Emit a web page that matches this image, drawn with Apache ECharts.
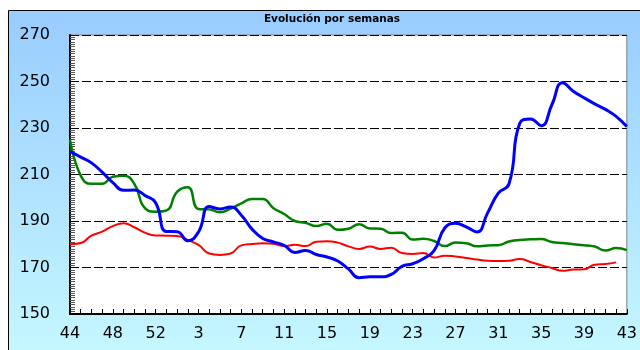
<!DOCTYPE html>
<html>
<head>
<meta charset="utf-8">
<script src="https://cdn.jsdelivr.net/npm/echarts@6/dist/echarts.min.js"></script>
<style>
  html, body { margin: 0; padding: 0; background: #ffffff; }
  #chart { width: 640px; height: 350px; }
</style>
</head>
<body>
<div id="chart"></div>
<script>
// Weeks 44..53 of the previous year, then weeks 1..43
const weeks = [44, 45, 46, 47, 48, 49, 50, 51, 52, 53,
  1, 2, 3, 4, 5, 6, 7, 8, 9, 10, 11, 12, 13, 14, 15, 16, 17, 18, 19, 20,
  21, 22, 23, 24, 25, 26, 27, 28, 29, 30, 31, 32, 33, 34, 35, 36, 37, 38, 39, 40,
  41, 42, 43];

const yTicks = { min: 150, max: 270, step: 20 };

const blueSeries = [219.8, 217.5, 215, 211, 206.5, 203.2, 203.3, 201, 197.8, 185.5,
  185.4, 181.5, 185.3, 196.2, 195.2, 196, 192.5, 186.5, 182.5, 181,
  179.5, 176.5, 177.3, 175.6, 174.5, 172.8, 169.4, 165.6, 166, 166,
  167, 170.5, 171.6, 173.8, 177.3, 187, 189, 187.5, 185.3, 193.5,
  202, 206, 232, 233.9, 231, 240, 249.5, 245.8, 243, 240.4,
  238, 235, 230.6];

const greenSeries = [225, 209.5, 206, 206, 209, 209.5, 206, 195.5, 194, 194.5,
  202.5, 204.5, 195.2, 195, 193.8, 195.3, 197.6, 199.5, 199.5, 195.5,
  193, 190, 189.2, 187.8, 188.8, 186.2, 186.7, 188.6, 186.8, 186.7,
  184.8, 185, 182, 182.4, 181.4, 179.2, 180.7, 180.4, 179.1, 179.5,
  179.6, 181.2, 181.8, 182.1, 182.3, 181, 180.5, 180, 179.6, 179,
  177.3, 178.4, 177.5];

const redSeries = [180, 180.5, 183.7, 185.4, 187.8, 189, 187.3, 185, 183.8, 183.7,
  183.6, 181.8, 179.7, 176, 175.4, 176, 179.5, 180.1, 180.4, 180.2,
  179.2, 179.8, 179.2, 181.1, 181.3, 180.7, 179.1, 178, 179, 178,
  178.5, 176.2, 175.8, 176.2, 174.3, 175.1, 174.7, 174.1, 173.4, 172.9,
  172.8, 172.9, 173.7, 172.4, 171, 169.8, 168.6, 169.1, 169.2, 171.2,
  171.5, 172.2, null];

const chart = echarts.init(document.getElementById('chart'), null, { renderer: 'canvas' });

const labelFont = { fontFamily: 'DejaVu Sans', fontSize: 16, color: '#000' };

chart.setOption({
  animation: false,
  graphic: [{
    type: 'rect',
    z: -10,
    silent: true,
    shape: { x: 8.5, y: 10.5, width: 700, height: 400 },
    style: {
      fill: new echarts.graphic.LinearGradient(0, 0, 0, 1, [
        { offset: 0, color: '#99ccff' },
        { offset: 1, color: '#ccffff' }
      ]),
      stroke: '#000',
      lineWidth: 1
    }
  }],
  title: {
    text: 'Evolución por semanas',
    left: 327,
    textAlign: 'center',
    top: 9,
    textStyle: { fontFamily: 'DejaVu Sans', fontSize: 10.5, fontWeight: 'bold', color: '#000' }
  },
  grid: {
    left: 70, top: 35, right: 8, bottom: 36,
    show: true,
    backgroundColor: '#ffffff',
    borderColor: '#808080',
    borderWidth: 1
  },
  xAxis: {
    type: 'category',
    data: weeks,
    boundaryGap: false,
    axisLine: { show: true, lineStyle: { color: '#000', width: 2 } },
    axisTick: { show: true, inside: true, length: 5, interval: 0, lineStyle: { color: '#000' } },
    axisLabel: Object.assign({ interval: 3, margin: 12 }, labelFont),
    splitLine: { show: false }
  },
  yAxis: {
    type: 'value',
    min: yTicks.min,
    max: yTicks.max,
    interval: yTicks.step,
    axisLine: { show: true, lineStyle: { color: '#000', width: 2 } },
    axisTick: { show: true, inside: true, length: 6, lineStyle: { color: '#000' } },
    minorTick: { show: true, splitNumber: 20, length: 5, lineStyle: { color: '#555' } },
    axisLabel: Object.assign({ margin: 20 }, labelFont),
    splitLine: { show: true, lineStyle: { color: '#000', width: 1, type: [9, 3] } }
  },
  series: [
    {
      type: 'line', data: redSeries, smooth: 0.5, symbol: 'none',
      lineStyle: { color: '#ff0000', width: 2 }
    },
    {
      type: 'line', data: greenSeries, smooth: 0.5, symbol: 'none',
      lineStyle: { color: '#008000', width: 2.5 }
    },
    {
      type: 'line', data: blueSeries, smooth: 0.5, symbol: 'none',
      lineStyle: { color: '#0000ff', width: 3 }
    }
  ]
});
</script>
</body>
</html>
